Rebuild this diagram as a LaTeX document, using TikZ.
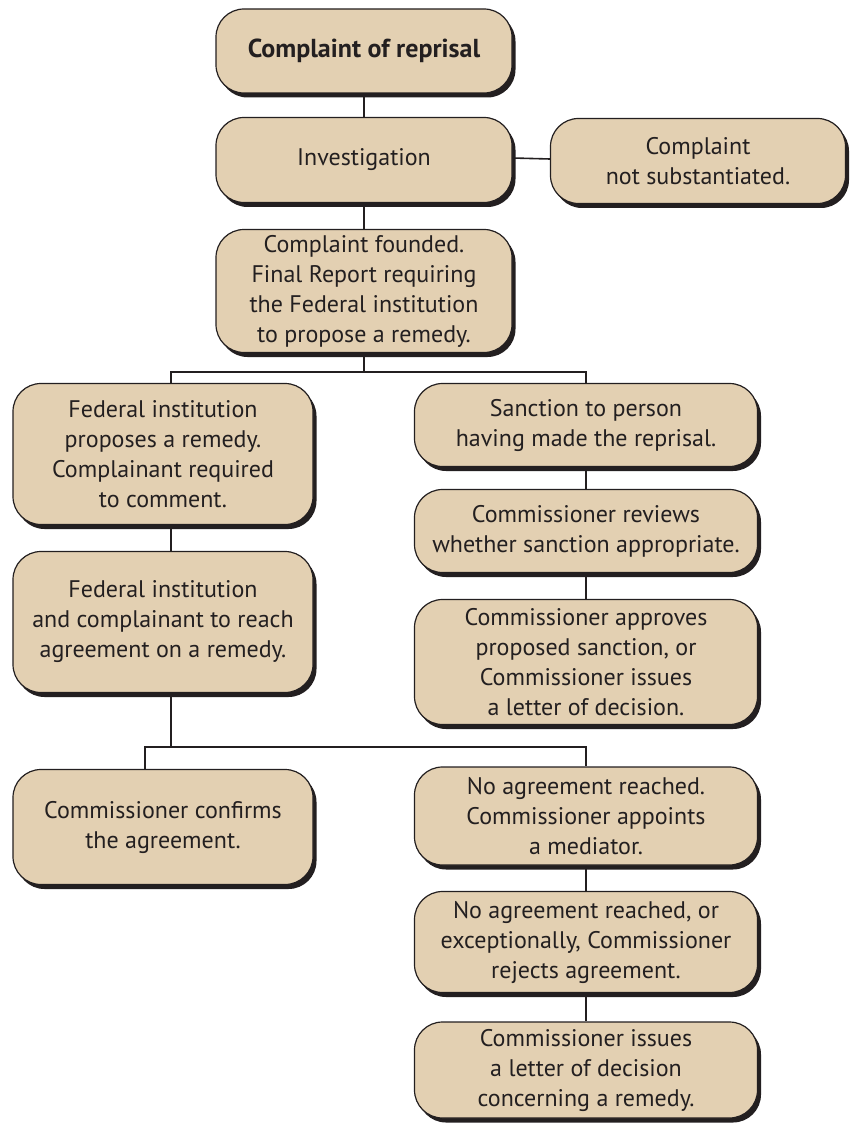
\documentclass[tikz,border=0pt]{standalone}
\usepackage{fontspec}
\setmainfont{PT Sans}
\usetikzlibrary{shadows}
\definecolor{boxtan}{RGB}{227,208,178}
\definecolor{ink}{RGB}{35,31,32}
\tikzset{
	stepbox/.style={draw=ink, line width=1.2pt, fill=boxtan, rounded corners=28pt,
		align=center, text=ink, inner sep=0pt, font=\fontsize{24}{30}\selectfont,
		drop shadow={shadow xshift=3.5pt, shadow yshift=-4.5pt, opacity=1, fill=ink}},
	size/.style 2 args={minimum width=#1, minimum height=#2},
	link/.style={draw=ink, line width=1.6pt}
}
\begin{document}
\begin{tikzpicture}[x=1pt, y=-1pt]
	\useasboundingbox (0,0) rectangle (849,1123);
	
	% Top column
	\node[stepbox, size={296pt}{84pt}, font=\fontsize{26}{30}\selectfont\bfseries] (reprisal) at (364,51) {Complaint of reprisal};
	\node[stepbox, size={296pt}{85pt}] (investigation) at (364,160) {Investigation};
	\node[stepbox, size={295pt}{85pt}] (notsub) at (698,161) {Complaint\\not substantiated.};
	\node[stepbox, size={296pt}{123pt}] (founded) at (364,291) {Complaint founded.\\Final Report requiring\\the Federal institution\\to propose a remedy.};
	
	% Left column
	\node[stepbox, size={300pt}{141pt}] (proposes) at (163,454) {Federal institution\\proposes a remedy.\\Complainant required\\to comment.};
	\node[stepbox, size={300pt}{141pt}] (reach) at (163,622) {Federal institution\\and complainant to reach\\agreement on a remedy.};
	\node[stepbox, size={300pt}{115pt}] (confirms) at (163,827) {Commissioner confirms\\the agreement.};
	
	% Right column
	\node[stepbox, size={343pt}{83pt}] (sanction) at (586,425) {Sanction to person\\having made the reprisal.};
	\node[stepbox, size={343pt}{83pt}] (reviews) at (586,531) {Commissioner reviews\\whether sanction appropriate.};
	\node[stepbox, size={343pt}{125pt}] (approves) at (586,662) {Commissioner approves\\proposed sanction, or\\Commissioner issues\\a letter of decision.};
	\node[stepbox, size={343pt}{98pt}] (mediator) at (586,816) {No agreement reached.\\Commissioner appoints\\a mediator.};
	\node[stepbox, size={343pt}{101pt}] (rejects) at (586,942) {No agreement reached, or\\exceptionally, Commissioner\\rejects agreement.};
	\node[stepbox, size={343pt}{96pt}] (letter) at (586,1070) {Commissioner issues\\a letter of decision\\concerning a remedy.};
	
	% Connectors
	\coordinate (split1) at (364,372);
	\coordinate (split2) at (171,747);
	\draw[link] (reprisal) -- (investigation);
	\draw[link] ([yshift=2pt]investigation.east) -- ([yshift=2pt]notsub.west);
	\draw[link] (investigation) -- (founded);
	\draw[link] (founded) -- (split1);
	\draw[link] ([xshift=8pt]proposes.north) |- (split1) -| (sanction.north);
	\draw[link] ([xshift=8pt]proposes.south) -- ([xshift=8pt]reach.north);
	\draw[link] ([xshift=8pt]reach.south) -- (split2);
	\draw[link] ([xshift=-18pt]confirms.north) |- (split2) -| (mediator.north);
	\draw[link] (sanction) -- (reviews);
	\draw[link] (reviews) -- (approves);
	\draw[link] (mediator) -- (rejects);
	\draw[link] (rejects) -- (letter);
	
\end{tikzpicture}
\end{document}
